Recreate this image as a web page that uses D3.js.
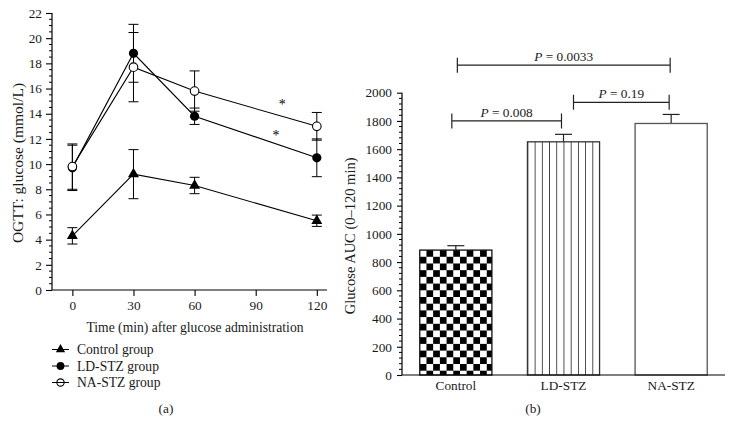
<!DOCTYPE html>
<html><head><meta charset="utf-8">
<script src="https://cdn.jsdelivr.net/npm/d3@7/dist/d3.min.js"></script>
<style>
html,body{margin:0;padding:0;background:#fff;}
svg{display:block;}
</style></head><body>
<svg id="c" width="734" height="434" font-family="Liberation Serif"></svg>
<script>
// ---------- data ----------
const times = [0, 30, 60, 120];
const xTicks = [0, 30, 60, 90, 120];
const yTicksA = [0, 2, 4, 6, 8, 10, 12, 14, 16, 18, 20, 22];
const controlMean = [4.3, 9.2, 8.3, 5.5];
const controlErr  = [0.65, 1.95, 0.65, 0.45];
const ldMean = [9.7, 18.8, 13.8, 10.5];
const ldErr  = [1.8, 2.3, 0.65, 1.5];
const naMean = [9.8, 17.7, 15.8, 13.0];
const naErr  = [1.8, 2.75, 1.6, 1.1];
const seriesNames = ["Control group", "LD-STZ group", "NA-STZ group"];
const asterisks = [[103, 14.8], [100, 12.3]];

const groups = ["Control", "LD-STZ", "NA-STZ"];
const auc = [885, 1652, 1782];
const aucErr = [31, 53, 64];
const yTicksB = [0, 200, 400, 600, 800, 1000, 1200, 1400, 1600, 1800, 2000];
const brackets = [
  {a: "Control", b: "LD-STZ", level: 1800, label: "0.008"},
  {a: "LD-STZ", b: "NA-STZ", level: 1932, label: "0.19"},
  {a: "Control", b: "NA-STZ", level: 2195, label: "0.0033"}
];

const FF = "Liberation Serif";
const svg = d3.select("#c");
const FS = 13.3;
const TC = "#1a1a1a";

// ---------- panel (a) ----------
const xA = d3.scaleLinear().domain([-10, 125]).range([52, 327]);
const yA = d3.scaleLinear().domain([0, 22]).range([290, 13]);
const gA = svg.append("g");

function styleAxis(g) {
  g.attr("font-family", FF).attr("font-size", FS);
  g.select(".domain").attr("stroke", "#000").attr("stroke-width", 1.2);
  g.selectAll(".tick line").attr("stroke", "#000").attr("stroke-width", 1.1);
  g.selectAll("text").attr("font-family", FF).attr("font-size", FS).attr("fill", TC);
}

const axL = d3.axisLeft(yA).tickValues(yTicksA).tickSize(6).tickPadding(4).tickFormat(d3.format("d"));
const gy = gA.append("g").attr("transform", `translate(${xA(-10)},0)`).call(axL);
const minorA = d3.range(0, 22.01, 0.5).filter(v => v % 2 !== 0);
gy.selectAll(".minor").data(minorA).enter().append("line").attr("class","minor")
  .attr("x1", 0).attr("x2", -3).attr("y1", d => yA(d)).attr("y2", d => yA(d)).attr("stroke","#000");
const axB = d3.axisBottom(xA).tickValues(xTicks).tickSize(6).tickPadding(5);
const gx = gA.append("g").attr("transform", `translate(0,${yA(0)})`).call(axB);
styleAxis(gy); styleAxis(gx);
gy.select(".domain").attr("d", `M0,${yA(22)}V${yA(0)}`);
gx.select(".domain").attr("d", `M${xA(-10)},0H${xA(125)}`);

gA.append("text").attr("transform", `translate(17,163) rotate(-90)`).attr("text-anchor","middle")
  .attr("dominant-baseline","central").attr("font-family", FF).attr("font-size", 15.5).attr("fill",TC).text("OGTT: glucose (mmol/L)");
gA.append("text").attr("x", 195).attr("y", 327).attr("text-anchor","middle").attr("dominant-baseline","central")
  .attr("font-family", FF).attr("font-size", 13.6).attr("fill",TC).text("Time (min) after glucose administration");

const series = [
  {mean: controlMean, err: controlErr, marker: "tri"},
  {mean: ldMean, err: ldErr, marker: "dot"},
  {mean: naMean, err: naErr, marker: "open"}
];
const line = d3.line().x((d, i) => xA(times[i])).y(d => yA(d));
const capW = 5;
function drawMarker(g, type, x, y, k, hollow) {
  k = k || 1;
  if (type === "tri") {
    g.append("path").attr("d", d3.symbol(d3.symbolTriangle, 52 * k * k)()).attr("transform", `translate(${x},${y})`).attr("fill", "#000");
  } else if (type === "dot") {
    g.append("circle").attr("cx", x).attr("cy", y).attr("r", 4.6 * k).attr("fill", "#000");
  } else {
    g.append("circle").attr("cx", x).attr("cy", y).attr("r", 4.3 * k).attr("fill", hollow ? "none" : "#fff").attr("stroke", "#000").attr("stroke-width", 1.1);
  }
}
series.forEach(s => {
  const g = gA.append("g");
  s.mean.forEach((m, i) => {
    const x = xA(times[i]);
    g.append("line").attr("x1", x).attr("x2", x).attr("y1", yA(m - s.err[i])).attr("y2", yA(m + s.err[i])).attr("stroke","#000");
    [m - s.err[i], m + s.err[i]].forEach(v => g.append("line").attr("x1", x - capW).attr("x2", x + capW)
      .attr("y1", yA(v)).attr("y2", yA(v)).attr("stroke", "#000"));
  });
  g.append("path").datum(s.mean).attr("d", line).attr("fill","none").attr("stroke","#000").attr("stroke-width",1.1);
});
series.forEach(s => s.mean.forEach((m, i) => drawMarker(gA, s.marker, xA(times[i]), yA(m))));
asterisks.forEach(a => gA.append("text").attr("x", xA(a[0])).attr("y", yA(a[1]) + 5).attr("text-anchor","middle")
  .attr("font-family", FF).attr("font-size", 14).attr("fill","#000").text("*"));

// legend
seriesNames.forEach((n, i) => {
  const y = 349.5 + i * 16.5;
  gA.append("line").attr("x1", 52).attr("x2", 69).attr("y1", y).attr("y2", y).attr("stroke","#000");
  drawMarker(gA, series[i].marker, 60.5, y, 0.85, true);
  gA.append("text").attr("x", 77).attr("y", y).attr("dominant-baseline","central").attr("font-family", FF).attr("font-size", 13.6)
    .attr("fill",TC).text(n);
});
gA.append("text").attr("x", 166).attr("y", 408).attr("text-anchor","middle").attr("dominant-baseline","central")
  .attr("font-family", FF).attr("font-size", FS).attr("fill",TC).text("(a)");

// ---------- panel (b) ----------
const xB = d3.scaleBand().domain(groups).range([402, 725]).paddingInner(0.33).paddingOuter(0.165);
const yB = d3.scaleLinear().domain([0, 2000]).range([375, 92.7]);
const gB = svg.append("g");
const defs = svg.append("defs");
const cs = 6.7;
const chk = defs.append("pattern").attr("id","chk").attr("patternUnits","userSpaceOnUse")
  .attr("width", cs*2).attr("height", cs*2).attr("patternTransform", `translate(${xB("Control")},${yB(auc[0])})`);
chk.append("rect").attr("width", cs*2).attr("height", cs*2).attr("fill","#fff");
chk.append("rect").attr("x", cs).attr("y", 0).attr("width", cs).attr("height", cs).attr("fill","#000");
chk.append("rect").attr("x", 0).attr("y", cs).attr("width", cs).attr("height", cs).attr("fill","#000");
const vw = xB.bandwidth() / 10;
const vl = defs.append("pattern").attr("id","vl").attr("patternUnits","userSpaceOnUse")
  .attr("width", vw).attr("height", 10).attr("patternTransform", `translate(${xB("LD-STZ")},0)`);
vl.append("rect").attr("width", vw).attr("height", 10).attr("fill","#fff");
vl.append("line").attr("x1", 0).attr("x2", 0).attr("y1", 0).attr("y2", 10).attr("stroke","#222").attr("stroke-width", 1.6);
const fills = ["url(#chk)", "url(#vl)", "#fff"];
const strokes = ["#111", "#333", "#555"];

groups.forEach((gname, i) => {
  const x0 = xB(gname), w = xB.bandwidth(), cx = x0 + w / 2;
  gB.append("line").attr("x1", cx).attr("x2", cx).attr("y1", yB(auc[i])).attr("y2", yB(auc[i] + aucErr[i])).attr("stroke","#222").attr("stroke-width",1.2);
  gB.append("line").attr("x1", cx - 8.5).attr("x2", cx + 8.5).attr("y1", yB(auc[i] + aucErr[i])).attr("y2", yB(auc[i] + aucErr[i])).attr("stroke","#222").attr("stroke-width",1.2);
  gB.append("rect").attr("x", x0).attr("y", yB(auc[i])).attr("width", w).attr("height", yB(0) - yB(auc[i]))
    .attr("fill", fills[i]).attr("stroke", strokes[i]).attr("stroke-width", 1.3);
});

const axLB = d3.axisLeft(yB).tickValues(yTicksB).tickSize(5).tickPadding(5).tickFormat(d3.format("d"));
const gyB = gB.append("g").attr("transform", `translate(402,0)`).call(axLB);
const minorB = d3.range(0, 2000.1, 40).filter(v => v % 200 !== 0);
gyB.selectAll(".minor").data(minorB).enter().append("line").attr("class","minor")
  .attr("x1", 0).attr("x2", -3).attr("y1", d => yB(d)).attr("y2", d => yB(d)).attr("stroke","#000");
const axBB = d3.axisBottom(xB).tickSize(0).tickPadding(6);
const gxB = gB.append("g").attr("transform", `translate(0,${yB(0)})`).call(axBB);
styleAxis(gyB); styleAxis(gxB);
gyB.select(".domain").attr("d", `M0,${yB(2000)}V${yB(0)}`);
gxB.select(".domain").attr("d", `M402,0H725`);

gB.append("text").attr("transform", `translate(350,${(yB(0)+yB(2000))/2 + 2}) rotate(-90)`).attr("text-anchor","middle")
  .attr("dominant-baseline","central").attr("font-family", FF).attr("font-size", 14.5).attr("fill",TC).text("Glucose AUC (0–120 min)");

const offs = {"0.008": [-4, -2], "0.19": [10, -2], "0.0033": [1.5, -1]};
brackets.forEach(b => {
  const x1 = xB(b.a) + xB.bandwidth()/2 + offs[b.label][0];
  const x2 = xB(b.b) + xB.bandwidth()/2 + offs[b.label][1];
  const y = yB(b.level);
  gB.append("path").attr("d", `M${x1},${y-7.5}V${y+7.5}M${x1},${y}H${x2}M${x2},${y-7.5}V${y+7.5}`)
    .attr("fill","none").attr("stroke","#222").attr("stroke-width",1.2);
  const t = gB.append("text").attr("x", (x1 + x2) / 2).attr("y", y - 4).attr("text-anchor","middle")
    .attr("font-family", FF).attr("font-size", FS).attr("fill",TC);
  t.append("tspan").attr("font-style","italic").text("P");
  t.append("tspan").text(" = " + b.label);
});
gB.append("text").attr("x", 533).attr("y", 408).attr("text-anchor","middle").attr("dominant-baseline","central")
  .attr("font-family", FF).attr("font-size", FS).attr("fill",TC).text("(b)");
</script></body></html>
